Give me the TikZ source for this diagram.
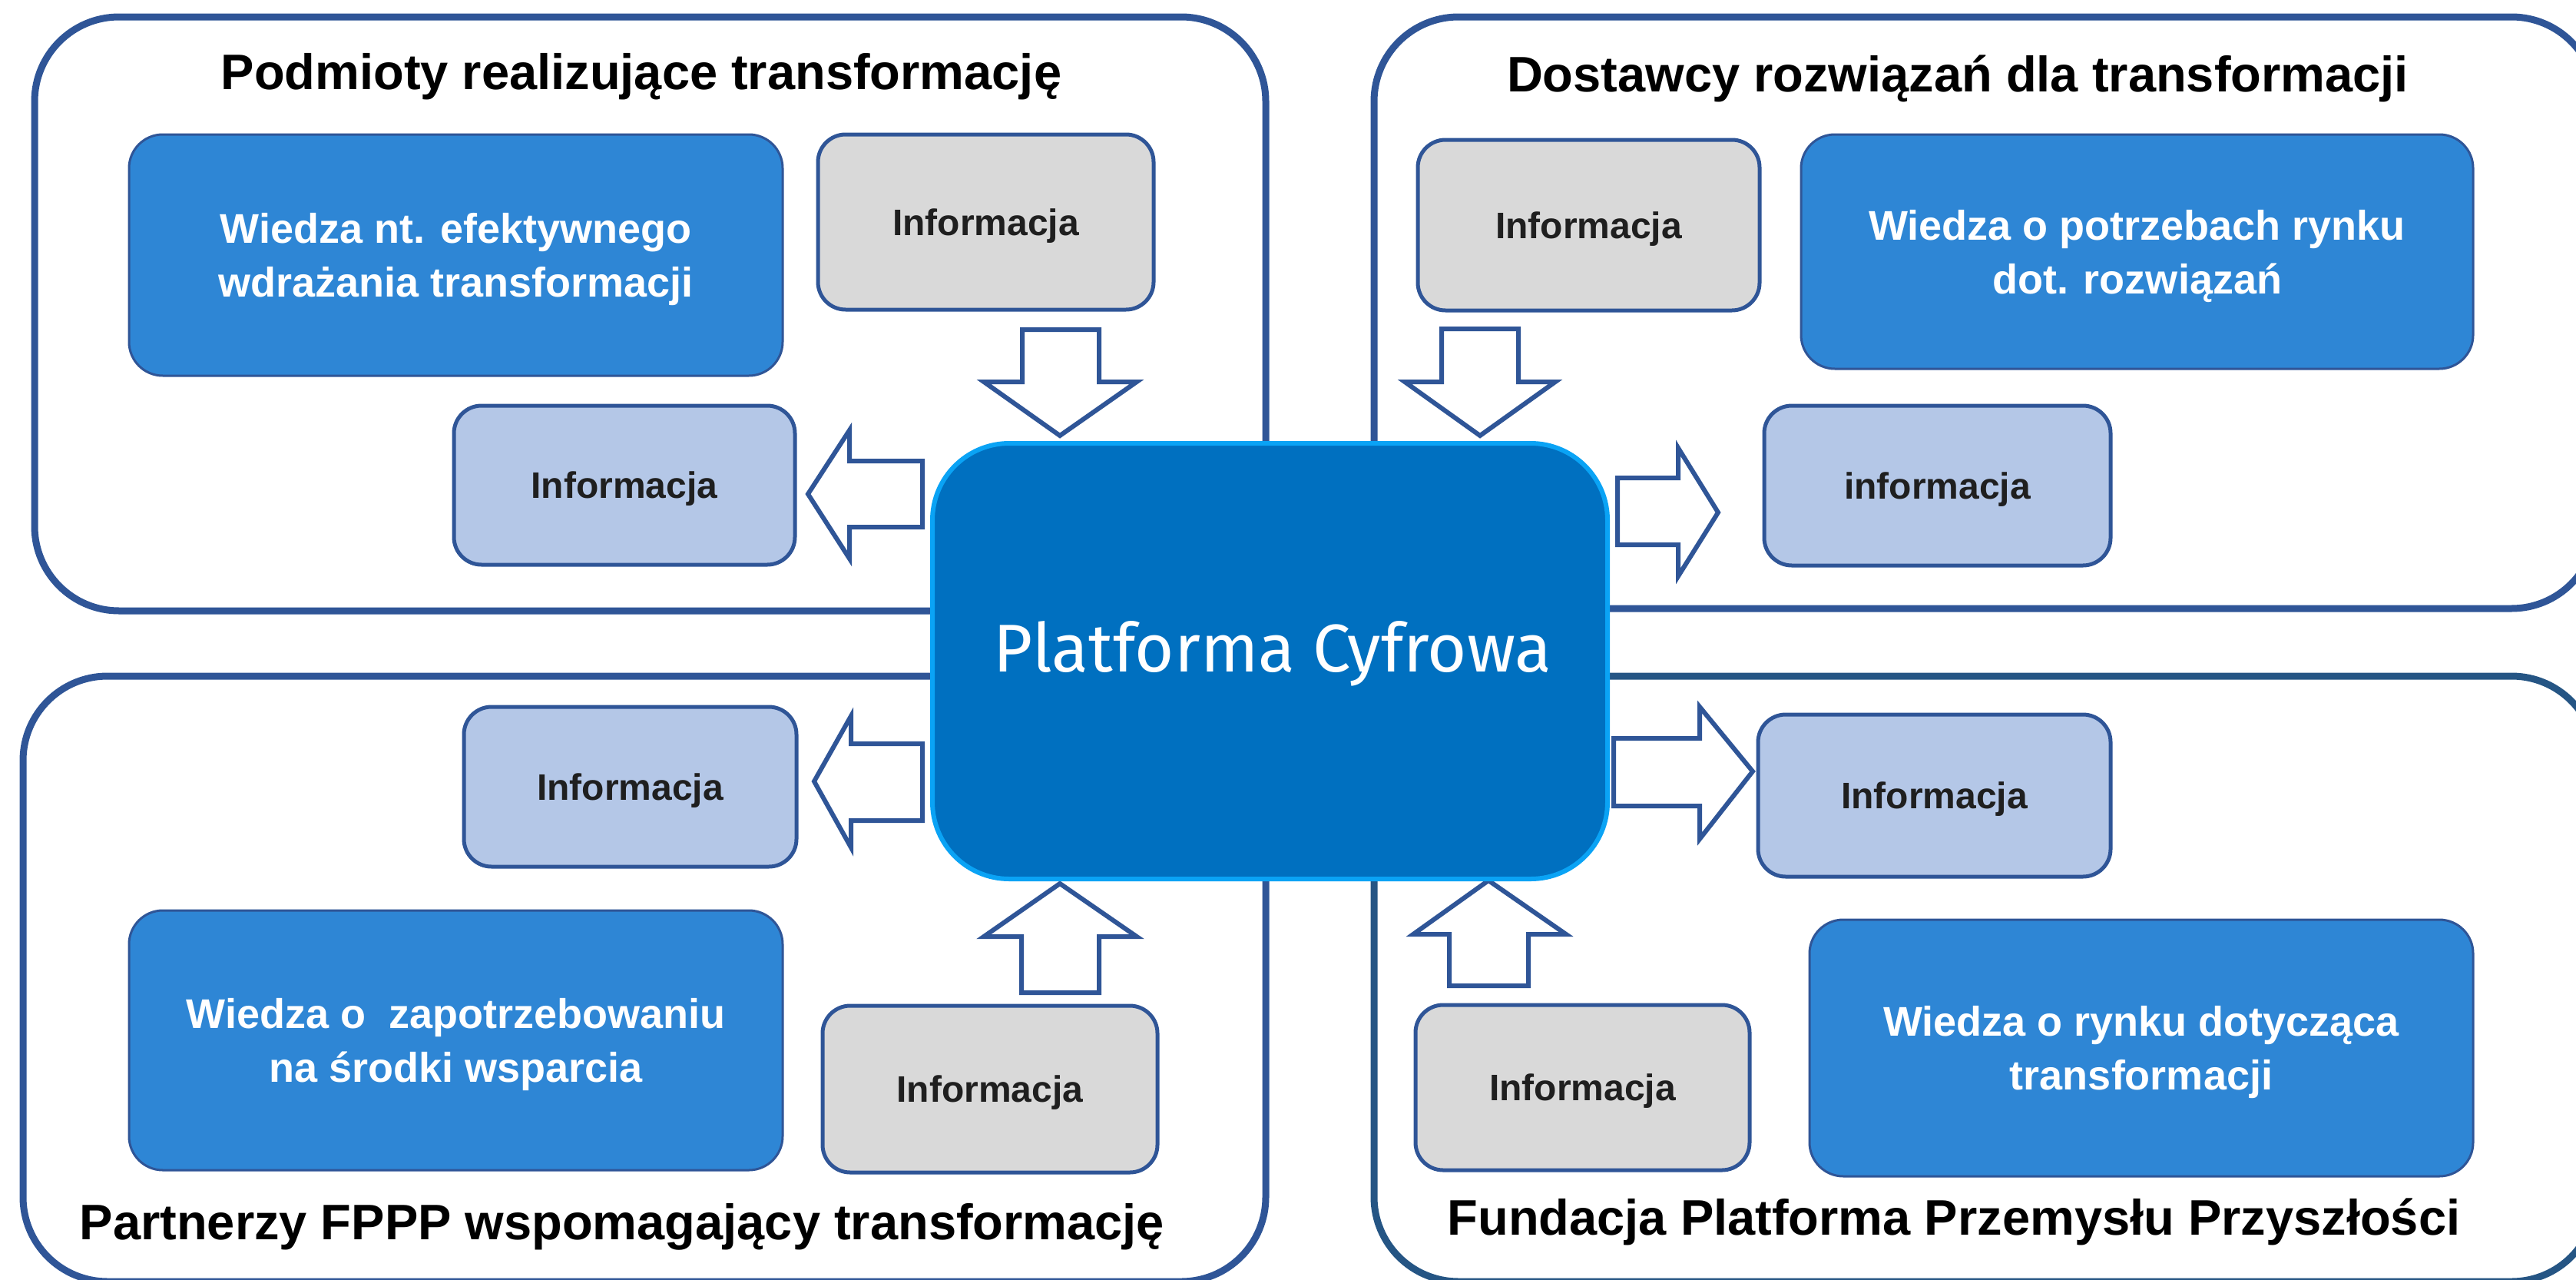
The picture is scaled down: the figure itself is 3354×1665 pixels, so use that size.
\documentclass[tikz,border=0pt]{standalone}
\usepackage{fontspec}
\setmainfont{Liberation Sans}
\newfontfamily\platfont{Fira Sans}
\definecolor{cPanel}{HTML}{2F5597}
\definecolor{cPanelDark}{HTML}{255584}
\definecolor{cWiedza}{HTML}{2E86D5}
\definecolor{cGray}{HTML}{D9D9D9}
\definecolor{cLight}{HTML}{B4C7E7}
\definecolor{cCentral}{HTML}{0070C0}
\definecolor{cCentralLine}{HTML}{0AA3F5}
\definecolor{cBoxLine}{HTML}{2F5597}
% \MkBox{style}{name}{x1}{y1}{x2}{y2}{text}
\newcommand\MkBox[7]{%
  \pgfmathsetmacro\mbcx{(#3+#5)/2}%
  \pgfmathsetmacro\mbcy{(#4+#6)/2}%
  \pgfmathsetmacro\mbw{(#5-#3)*0.5}%
  \pgfmathsetmacro\mbh{(#6-#4)*0.5}%
  \node[#1, minimum width=\mbw pt, minimum height=\mbh pt] (#2) at (\mbcx,\mbcy) {#7};%
}
\begin{document}
\begin{tikzpicture}[x=0.5pt,y=-0.5pt,
  panel/.style={draw=cPanel, line width=4.5pt, rounded corners=55pt, fill=white},
  box/.style={draw=cBoxLine, line width=2.5pt, rounded corners=18pt, inner sep=0pt,
    text depth=0pt, font=\bfseries\fontsize{24}{28}\selectfont, text=black!88},
  greybox/.style={box, fill=cGray},
  lightbox/.style={box, fill=cLight},
  wiedza/.style={box, fill=cWiedza, line width=1.5pt, rounded corners=22pt, text=white, align=center,
    font=\bfseries\fontsize{27}{35}\selectfont},
  ptitle/.style={font=\bfseries\fontsize{32.5}{37}\selectfont, anchor=base, inner sep=0pt},
  blk/.style={draw=cBoxLine, line width=3pt, fill=white, line join=miter},
]
\useasboundingbox (0,0) rectangle (3354,1665);
\clip (0,0) rectangle (3354,1665);
\fill[white] (0,0) rectangle (3354,1665);

% panels
\draw[panel] (45,22) rectangle (1648,795);
\draw[panel] (1789,22) rectangle (3380,792);
\draw[panel] (30,880) rectangle (1648,1668);
\draw[panel, draw=cPanelDark] (1789,880) rectangle (3380,1668);

% titles
\node[ptitle] (t1) at (835,116) {Podmioty realizujące transformację};
\node[ptitle] (t2) at (2549,119) {Dostawcy rozwiązań dla transformacji};
\node[ptitle] (t3) at (810,1613) {Partnerzy FPPP wspomagający transformację};
\node[ptitle] (t4) at (2544,1607) {Fundacja Platforma Przemysłu Przyszłości};

% top-left boxes
\MkBox{wiedza}{w1}{168}{175}{1019}{489}{Wiedza nt. efektywnego\\wdrażania transformacji}
\MkBox{greybox}{g1}{1065}{175}{1502}{403}{Informacja}
\MkBox{lightbox}{l1}{591}{528}{1035}{735}{Informacja}

% top-right boxes
\MkBox{greybox}{g2}{1846}{182}{2291}{404}{Informacja}
\MkBox{wiedza}{w2}{2345}{175}{3220}{480}{Wiedza o potrzebach rynku\\dot. rozwiązań}
\MkBox{lightbox}{l2}{2297}{528}{2748}{736}{informacja}

% bottom-left boxes
\MkBox{lightbox}{l3}{604}{920}{1037}{1128}{Informacja}
\MkBox{wiedza}{w3}{168}{1185}{1019}{1523}{Wiedza o \ zapotrzebowaniu\\na środki wsparcia}
\MkBox{greybox}{g3}{1071}{1309}{1507}{1526}{Informacja}

% bottom-right boxes
\MkBox{lightbox}{l4}{2289}{930}{2748}{1141}{Informacja}
\MkBox{greybox}{g4}{1843}{1308}{2278}{1523}{Informacja}
\MkBox{wiedza}{w4}{2356}{1197}{3220}{1531}{Wiedza o rynku dotycząca\\transformacji}

% block arrows
% TL down
\draw[blk] (1331,429) -- (1431,429) -- (1431,497) -- (1480,497) -- (1380,567) -- (1281,497) -- (1331,497) -- cycle;
% TR down
\draw[blk] (1877,428) -- (1977,428) -- (1977,497) -- (2025,497) -- (1927,567) -- (1829,497) -- (1877,497) -- cycle;
% TL left
\draw[blk] (1201,600) -- (1106,600) -- (1106,560) -- (1052,643) -- (1106,727) -- (1106,686) -- (1201,686) -- cycle;
% TR right
\draw[blk] (2106,622) -- (2185,622) -- (2185,583) -- (2237,667) -- (2185,750) -- (2185,709) -- (2106,709) -- cycle;
% BL left
\draw[blk] (1201,968) -- (1108,968) -- (1108,932) -- (1060,1017) -- (1108,1103) -- (1108,1068) -- (1201,1068) -- cycle;
% BL up
\draw[blk] (1330,1292) -- (1431,1292) -- (1431,1219) -- (1480,1219) -- (1380,1150) -- (1281,1219) -- (1330,1219) -- cycle;
% BR right
\draw[blk] (2101,961) -- (2213,961) -- (2213,920) -- (2282,1004) -- (2213,1092) -- (2213,1049) -- (2101,1049) -- cycle;
% BR up
\draw[blk] (1887,1283) -- (1990,1283) -- (1990,1216) -- (2039,1216) -- (1938,1146) -- (1840,1216) -- (1887,1216) -- cycle;

% central platform
\MkBox{draw=cCentralLine, fill=cCentral, line width=3pt, rounded corners=50pt, inner sep=0pt}{pc}{1214}{577}{2093}{1144}{}
\node[text=white, font=\platfont\fontsize{44}{50}\selectfont, anchor=base, inner sep=0pt]
      (pctext) at (1657,874) {Platforma Cyfrowa};
\end{tikzpicture}
\end{document}
